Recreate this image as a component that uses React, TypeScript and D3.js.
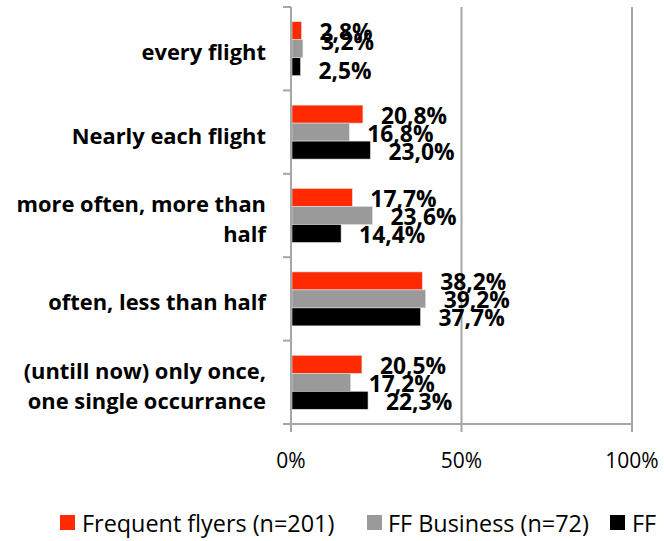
import React from "react";
import * as d3 from "d3";

const categories = [
  "every flight",
  "Nearly each flight",
  "more often, more than half",
  "often, less than half",
  "(untill now) only once, one single occurrance",
];
const categoryLines = [
  ["every flight"],
  ["Nearly each flight"],
  ["more often, more than", "half"],
  ["often, less than half"],
  ["(untill now) only once,", "one single occurrance"],
];
const seriesNames = ["Frequent flyers (n=201)", "FF Business (n=72)", "FF Economy (n=129)"];
const seriesColors = ["#ff2a00", "#9a9a9a", "#000000"];
const frequentFlyers = [2.8, 20.8, 17.7, 38.2, 20.5];
const ffBusiness = [3.2, 16.8, 23.6, 39.2, 17.2];
const ffEconomy = [2.5, 23.0, 14.4, 37.7, 22.3];
const xTicks = [0, 50, 100];

const W = 664;
const H = 541;

export default function App() {
  const series = [frequentFlyers, ffBusiness, ffEconomy];
  const x = d3.scaleLinear().domain([0, 100]).range([291, 632]);
  const y = d3.scaleBand<string>().domain(categories).range([7, 424]).paddingInner(0.353).paddingOuter(0.1765);
  const sub = d3.scaleBand<number>().domain([0, 1, 2]).range([0, y.bandwidth()]).padding(0);
  const fmt = (v: number) => v.toFixed(1).replace(".", ",") + "%";
  const step = y.step();
  const grid = "#a6a6a6";
  // label collision nudge (as the spreadsheet does for the crowded top group)
  const nudge = (ci: number, si: number) => (ci === 0 ? [0, -8, 2.5][si] : 0);

  return (
    <svg width={W} height={H} style={{ position: "absolute", left: 0, top: 0 }}>
      <rect width={W} height={H} fill="#fff" />
      {xTicks.slice(1).map((t) => (
        <line key={t} x1={x(t)} x2={x(t)} y1={7} y2={424} stroke={grid} strokeWidth={2} />
      ))}
      {categories.map((c, ci) =>
        series.map((s, si) => (
          <rect
            key={c + si}
            x={x(0) + 1}
            y={(y(c) as number) + (sub(si) as number)}
            width={x(s[ci]) - x(0)}
            height={sub.bandwidth()}
            fill={seriesColors[si]}
            stroke="#e0e0e0"
            strokeWidth={0.6}
          />
        ))
      )}
      <line x1={x(0)} x2={x(0)} y1={7} y2={432} stroke={grid} strokeWidth={2} />
      {d3.range(categories.length + 1).map((i) => (
        <line key={i} x1={283} x2={x(0)} y1={7 + i * step} y2={7 + i * step} stroke={grid} strokeWidth={2} />
      ))}
      <line x1={283} x2={x(100)} y1={424} y2={424} stroke={grid} strokeWidth={2} />
      {xTicks.map((t) => (
        <line key={t} x1={x(t)} x2={x(t)} y1={424} y2={432} stroke={grid} strokeWidth={2} />
      ))}
      {xTicks.map((t) => (
        <text key={t} x={x(t)} y={460} textAnchor="middle" dominantBaseline="central" fontFamily="Open Sans" fontSize={21} fill="#000">
          {t + "%"}
        </text>
      ))}
      {categories.map((c, ci) => {
        const lines = categoryLines[ci];
        const cy = (y(c) as number) + y.bandwidth() / 2 + 3;
        const lh = 30;
        return lines.map((l, li) => (
          <text
            key={c + li}
            x={266}
            y={cy + (li - (lines.length - 1) / 2) * lh}
            textAnchor="end"
            dominantBaseline="central"
            fontFamily="Open Sans"
            fontWeight="bold"
            fontSize={21.9}
            fill="#000"
          >
            {l}
          </text>
        ));
      })}
      {categories.map((c, ci) =>
        series.map((s, si) => (
          <text
            key={"v" + c + si}
            x={x(s[ci]) + 19}
            y={(y(c) as number) + (sub(si) as number) + sub.bandwidth() / 2 + 1 + nudge(ci, si)}
            dominantBaseline="central"
            fontFamily="Open Sans"
            fontWeight="bold"
            fontSize={22.8}
            fill="#000"
          >
            {fmt(s[ci])}
          </text>
        ))
      )}
      {[
        { sx: 60, tx: 82 },
        { sx: 367, tx: 388 },
        { sx: 610, tx: 632 },
      ].map((p, i) => (
        <g key={i}>
          <rect x={p.sx} y={515} width={15} height={15} fill={seriesColors[i]} />
          <text x={p.tx} y={523} dominantBaseline="central" fontFamily="Open Sans" fontSize={23.4} fill="#000">
            {seriesNames[i]}
          </text>
        </g>
      ))}
    </svg>
  );
}
